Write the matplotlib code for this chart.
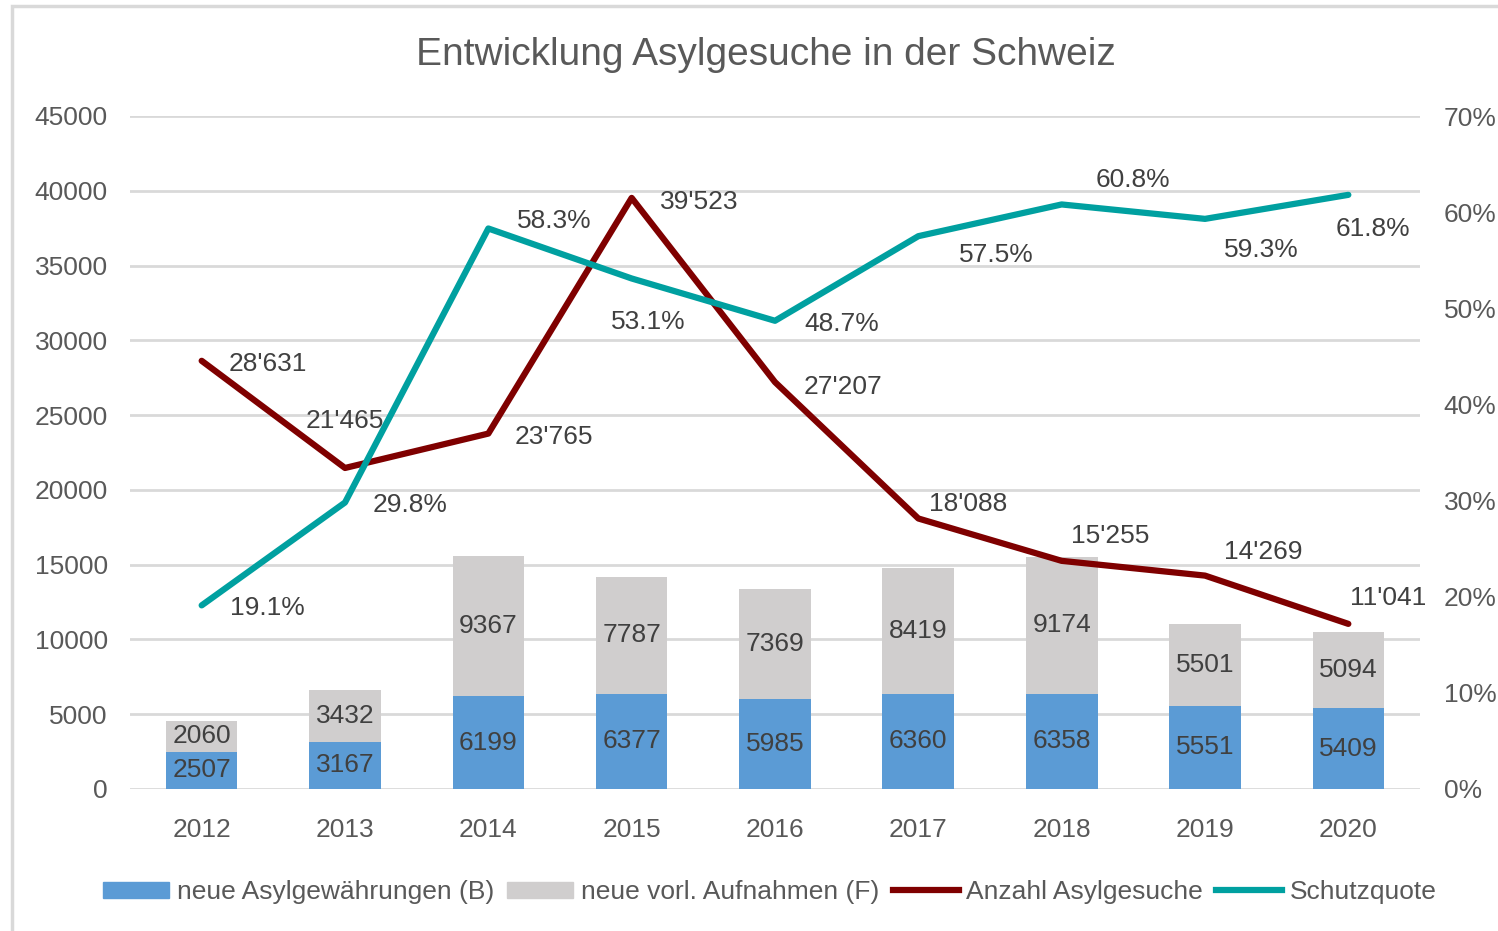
import matplotlib.pyplot as plt
from matplotlib.patches import Patch, Rectangle
from matplotlib.lines import Line2D
from matplotlib.ticker import PercentFormatter

plt.rcParams['font.family'] = ['Liberation Sans', 'DejaVu Sans']

years = ['2012', '2013', '2014', '2015', '2016', '2017', '2018', '2019', '2020']
asyl_b = [2507, 3167, 6199, 6377, 5985, 6360, 6358, 5551, 5409]
vorl_f = [2060, 3432, 9367, 7787, 7369, 8419, 9174, 5501, 5094]
gesuche = [28631, 21465, 23765, 39523, 27207, 18088, 15255, 14269, 11041]
quote = [19.1, 29.8, 58.3, 53.1, 48.7, 57.5, 60.8, 59.3, 61.8]

# label offsets in pixels (dx, dy) relative to the point, dy up
gesuche_off = [(66, -3), (0, 47), (66, -3), (68, -4), (68, -5), (50, 14), (49, 25), (58, 24), (40, 26)]
quote_off = [(66, -3), (65, -3), (66, 7), (17, -44), (67, -3), (78, -19), (71, 24), (56, -31), (25, -34)]

blue = '#5b9bd5'
grey = '#d0cece'
red = '#7f0000'
teal = '#00a0a0'
txt = '#595959'
lab = '#404040'
fs = 19

fig = plt.figure(figsize=(14.98, 9.31), dpi=100)
fig.patches.append(Rectangle((12 / 1498, -0.1), 1.2, 1.1 - 6 / 931, transform=fig.transFigure,
                             fill=False, edgecolor='#d9d9d9', linewidth=2.5))
ax = fig.add_axes([130 / 1498, 1 - 789 / 931, 1290 / 1498, 673 / 931])
ax2 = ax.twinx()

x = list(range(len(years)))
ax.bar(x, asyl_b, width=0.5, color=blue, zorder=2)
ax.bar(x, vorl_f, width=0.5, bottom=asyl_b, color=grey, zorder=2)
for i in x:
    ax.text(i, asyl_b[i] / 2, str(asyl_b[i]), ha='center', va='center', fontsize=fs, color=lab, zorder=3)
    ax.text(i, asyl_b[i] + vorl_f[i] / 2, str(vorl_f[i]), ha='center', va='center', fontsize=fs, color=lab, zorder=3)

ax.set_xlim(-0.5, len(years) - 0.5)
ax.set_ylim(0, 45000)
ax.set_yticks(range(0, 45001, 5000))
ax.set_xticks(x)
ax.set_xticklabels(years)
ax.grid(axis='y', color='#d9d9d9', linewidth=2)
ax.set_axisbelow(True)
for s in ax.spines.values():
    s.set_visible(False)
for s in ax2.spines.values():
    s.set_visible(False)
ax.tick_params(length=0, labelsize=fs, colors=txt)
ax.tick_params(axis='y', pad=16)
ax.tick_params(axis='x', pad=21)

ax.plot(x, gesuche, color=red, linewidth=4.5, zorder=4, solid_capstyle='round')
ax2.plot(x, quote, color=teal, linewidth=4.5, zorder=4, solid_capstyle='round')
ax2.set_ylim(0, 70)
ax2.set_yticks(range(0, 71, 10))
ax2.yaxis.set_major_formatter(PercentFormatter(decimals=0))
ax2.tick_params(length=0, labelsize=fs, colors=txt, pad=17)

for i in x:
    s = f"{gesuche[i]:,}".replace(',', "'")
    ax.annotate(s, (i, gesuche[i]), xytext=gesuche_off[i], textcoords='offset pixels',
                ha='center', va='center', fontsize=fs, color=lab, zorder=5)
    ax2.annotate(f"{quote[i]:.1f}%", (i, quote[i]), xytext=quote_off[i], textcoords='offset pixels',
                 ha='center', va='center', fontsize=fs, color=lab, zorder=5)

fig.text(766 / 1498, 1 - 55 / 931, 'Entwicklung Asylgesuche in der Schweiz', ha='center', va='center',
         fontsize=28, color=txt)

handles = [Patch(color=blue, label='neue Asylgewährungen (B)'),
           Patch(color=grey, label='neue vorl. Aufnahmen (F)'),
           Line2D([], [], color=red, linewidth=4.5, label='Anzahl Asylgesuche'),
           Line2D([], [], color=teal, linewidth=4.5, label='Schutzquote')]
leg = fig.legend(handles=handles, loc='center', bbox_to_anchor=(770 / 1498, 1 - 892 / 931), ncol=4,
                 frameon=False, fontsize=fs, handlelength=2.5, handleheight=0.55, handletextpad=0.3,
                 columnspacing=0.5, labelcolor=txt)

fig.savefig('out.png', dpi=100)
